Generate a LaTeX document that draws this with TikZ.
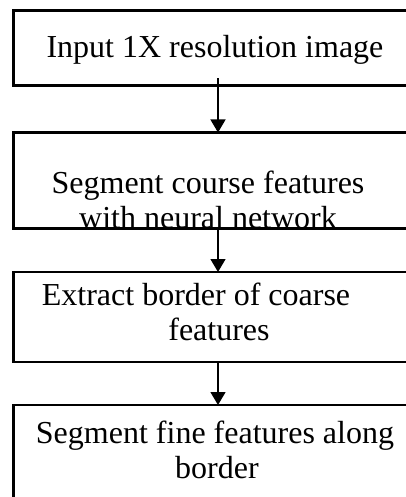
\documentclass[tikz,border=0pt]{standalone}
\usepackage{fontspec}
\setmainfont{Liberation Serif}
\usetikzlibrary{arrows.meta}
\begin{document}
\begin{tikzpicture}[x=1pt,y=-1pt,
  box/.style={draw=black, line width=2.6pt, rectangle, anchor=north west, inner sep=0pt, outer sep=0pt, minimum width=430pt},
  lbl/.style={anchor=base, inner sep=0pt, font=\fontsize{32}{35}\selectfont},
  arr/.style={draw=black, line width=1.4pt, -{Triangle[width=15pt,length=13pt]}}]
\useasboundingbox (0,0) rectangle (406,497);
\clip (0,0) rectangle (406,497);
\node[box, minimum height=75pt] (b1) at (13.5,10.5) {};
\node[box, minimum height=96pt] (b2) at (13.5,132.5) {};
\node[box, minimum height=90pt] (b3) at (13.5,272) {};
\node[box, minimum height=120pt] (b4) at (13.5,405) {};
\coordinate (ax) at (218,0);
\node[lbl] (t1) at (215,58) {Input 1X resolution image};
\node[lbl] (t2a) at (208,193) {Segment course features};
\node[lbl] (t2b) at (208,228) {with neural network};
\node[lbl] (t3a) at (196,305) {Extract border of coarse};
\node[lbl] (t3b) at (219,340) {features};
\node[lbl] (t4a) at (215,443) {Segment fine features along};
\node[lbl] (t4b) at (217,478) {border};
\draw[arr] ([yshift=7pt]b1.south -| ax) -- (b2.north -| ax);
\draw[arr] ([yshift=1pt]b2.south -| ax) -- (b3.north -| ax);
\draw[arr] ([yshift=1pt]b3.south -| ax) -- (b4.north -| ax);
\end{tikzpicture}
\end{document}
